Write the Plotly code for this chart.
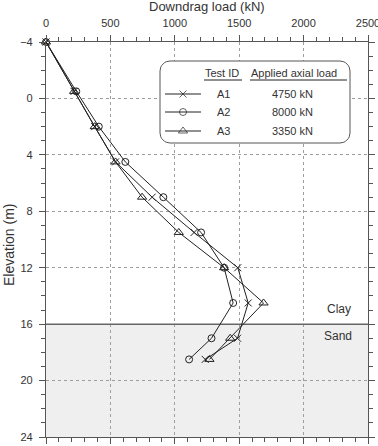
import math
import plotly.graph_objects as go

# ---------------- data ----------------
elevation = [-4, -0.5, 2, 4.5, 7, 9.5, 12, 14.5, 17, 18.5]
load_a1 = [0, 218, 378, 540, 824, 1150, 1489, 1570, 1487, 1236]
load_a2 = [0, 235, 410, 616, 911, 1204, 1383, 1453, 1285, 1111]
load_a3 = [0, 218, 378, 540, 746, 1031, 1383, 1689, 1430, 1269]

test_ids = ["A1", "A2", "A3"]
applied_loads = ["4750 kN", "8000 kN", "3350 kN"]
x_ticks = [0, 500, 1000, 1500, 2000, 2500]
y_ticks = [-4, 0, 4, 8, 12, 16, 20, 24]
clay_sand_boundary = 16
bottom_elev = 24

FONT = "Liberation Sans, Arial, sans-serif"
INK = "#222222"
TXT = "#333333"
AX = "#555555"

series = [
    (load_a1, "x-thin-open", 7),
    (load_a2, "circle-open", 7),
    (load_a3, "triangle-up-open", 8),
]

fig = go.Figure()

fig.add_trace(go.Scatter(
    x=[x_ticks[0], x_ticks[-1]], y=[clay_sand_boundary, clay_sand_boundary],
    mode="lines", line=dict(color="#666666", width=1.5),
    showlegend=False, hoverinfo="skip",
))

for xs, sym, sz in series:
    fig.add_trace(go.Scatter(
        x=xs, y=elevation, mode="lines+markers",
        line=dict(color=INK, width=1),
        marker=dict(symbol=sym, size=sz, color=INK, line=dict(color=INK, width=1)),
        cliponaxis=False, showlegend=False, hoverinfo="skip",
    ))

# ---- custom legend on a pixel-like overlay axis: x2 in [0,322], y2 in [395,0] ----
bx0, bx1, by0, by1, r = 114, 304, 19, 101, 10
px, py = [], []
corners = [(bx1 - r, by0 + r, -90, 0), (bx1 - r, by1 - r, 0, 90),
           (bx0 + r, by1 - r, 90, 180), (bx0 + r, by0 + r, 180, 270)]
for cx, cy, a0, a1 in corners:
    for k in range(9):
        a = math.radians(a0 + (a1 - a0) * k / 8)
        px.append(cx + r * math.cos(a))
        py.append(cy + r * math.sin(a))
px.append(px[0]); py.append(py[0])
fig.add_trace(go.Scatter(
    x=px, y=py, xaxis="x2", yaxis="y2", mode="lines", fill="toself",
    fillcolor="white", line=dict(color=AX, width=1),
    showlegend=False, hoverinfo="skip",
))

row_y = [52, 70, 89]
for (xs, sym, sz), ry in zip(series, row_y):
    fig.add_trace(go.Scatter(
        x=[119, 137, 155], y=[ry, ry, ry], mode="lines+markers",
        xaxis="x2", yaxis="y2",
        line=dict(color=INK, width=1),
        marker=dict(symbol=sym, size=[0, sz, 0], color=INK, line=dict(color=INK, width=1)),
        showlegend=False, hoverinfo="skip",
    ))

shapes = []
shapes.append(dict(type="rect", xref="x", yref="y", x0=x_ticks[0], x1=x_ticks[-1],
                   y0=clay_sand_boundary, y1=bottom_elev, fillcolor="#efefef",
                   line=dict(width=0), layer="below"))
shapes.append(dict(type="line", xref="x2", yref="y2", x0=158, x1=196, y0=38, y1=38,
                   line=dict(color=INK, width=1), layer="above"))
shapes.append(dict(type="line", xref="x2", yref="y2", x0=204, x1=301, y0=38, y1=38,
                   line=dict(color=INK, width=1), layer="above"))

ann = []
def txt(x, y, s, size=11, xref="x2", yref="y2", **kw):
    ann.append(dict(x=x, y=y, xref=xref, yref=yref, text=s, showarrow=False,
                    xanchor="center", yanchor="middle",
                    font=dict(family=FONT, size=size, color=TXT), **kw))

txt(176, 31, "Test ID")
txt(248, 31, "Applied axial load")
for tid, ld, ry in zip(test_ids, applied_loads, row_y):
    txt(177, ry, tid)
    txt(246, ry, ld)
txt(293, 267, "Clay", size=12)
txt(292, 294, "Sand", size=12)
txt(0.5, (437 - 7) / 395, "Downdrag load (kN)", size=13, xref="paper", yref="paper")
txt((9 - 46) / 322, (437 - 245) / 395, "Elevation (m)", size=14, xref="paper", yref="paper",
    textangle=-90)

common = dict(
    ticks="outside", ticklen=6, tickwidth=1, tickcolor=AX,
    showline=True, linecolor=AX, linewidth=1.2, mirror="ticks",
    showgrid=True, gridcolor="#9e9e9e", gridwidth=1, griddash="dot",
    zeroline=False, tickfont=dict(family=FONT, size=11, color=TXT),
    automargin=False, ticklabelstandoff=4, ticklabeloverflow="allow",
)

fig.update_layout(
    width=378, height=446,
    margin=dict(l=46, r=10, t=42, b=9, autoexpand=False),
    plot_bgcolor="white", paper_bgcolor="white",
    showlegend=False,
    shapes=shapes, annotations=ann,
    xaxis=dict(side="top", range=[x_ticks[0], x_ticks[-1]], tickvals=x_ticks,
               minor=dict(tick0=0, dtick=100, ticks="outside", ticklen=4,
                          tickcolor=AX, showgrid=False),
               **common),
    yaxis=dict(range=[y_ticks[-1], y_ticks[0]], tickvals=y_ticks,
               minor=dict(tick0=0, dtick=1, ticks="outside", ticklen=4,
                          tickcolor=AX, showgrid=False),
               **common),
    xaxis2=dict(overlaying="x", range=[0, 322], visible=False, anchor="y2"),
    yaxis2=dict(overlaying="y", range=[395, 0], visible=False, anchor="x2"),
)

fig.write_html("out.html")
